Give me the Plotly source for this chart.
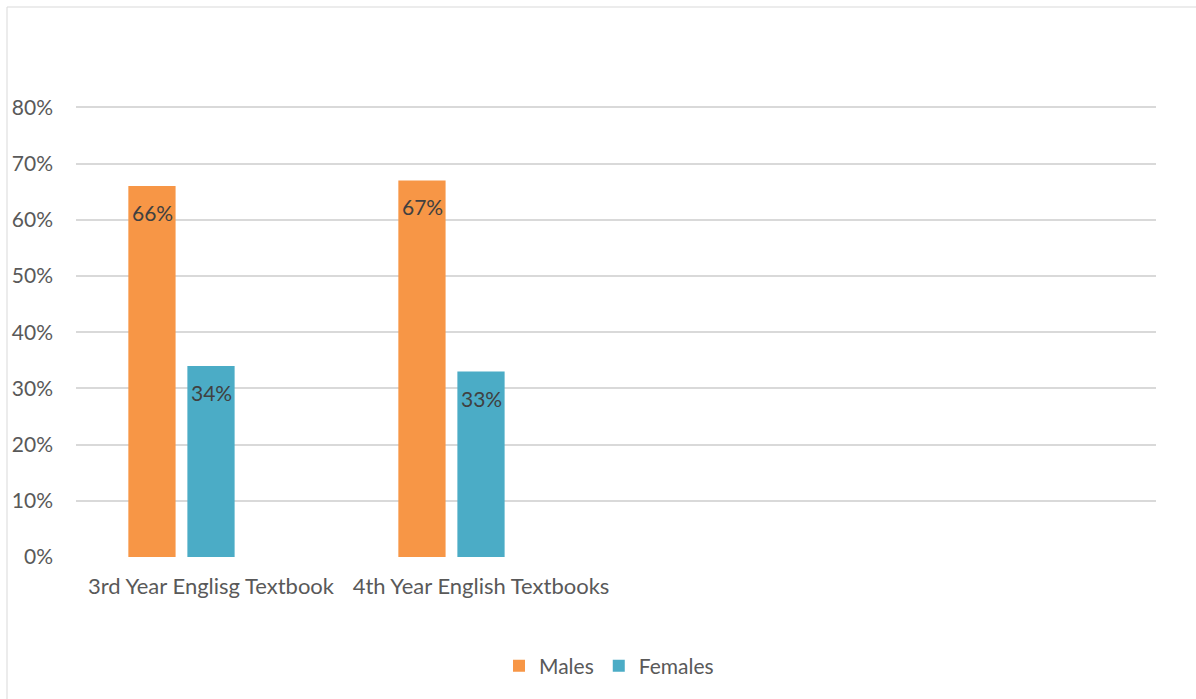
import plotly.graph_objects as go

categories = ["3rd Year Englisg Textbook", "4th Year English Textbooks"]
males = [0.66, 0.67]
females = [0.34, 0.33]
y_ticks = [0, 0.1, 0.2, 0.3, 0.4, 0.5, 0.6, 0.7, 0.8]
y_labels = ["0%", "10%", "20%", "30%", "40%", "50%", "60%", "70%", "80%"]

W, H = 1196, 699
ML, MR, MT, MB = 76, 40, 104, 142
PW, PH = W - ML - MR, H - MT - MB

FONT = "Lato"
FS = 21
TXT = "#595959"
xpos = list(range(len(categories)))

fig = go.Figure()
fig.add_trace(go.Bar(x=xpos, y=males, name="Males",
                     marker=dict(color="#F79646", line=dict(width=0))))
fig.add_trace(go.Bar(x=xpos, y=females, name="Females",
                     marker=dict(color="#4BACC6", line=dict(width=0))))
# empty third series (present in the source chart, no values)
fig.add_trace(go.Bar(x=xpos, y=[None, None], name="", showlegend=False,
                     marker=dict(color="rgba(0,0,0,0)"), hoverinfo="skip"))

# data labels, inside end of each bar
SLOT = 59  # px width of one series slot in the group
for vals, xs in ((males, -SLOT), (females, 0)):
    for i, v in enumerate(vals):
        fig.add_annotation(x=xpos[i], y=v, xref="x", yref="y", text=f"{v*100:.0f}%",
                           showarrow=False, xshift=xs, yshift=-12, yanchor="top",
                           font=dict(family=FONT, size=FS, color="#404040"))

def px_to_paper_x(p):
    return (p - ML) / PW

def px_to_paper_y(p):
    return (H - MB - p) / PH

fig.add_shape(type="rect", xref="paper", yref="paper",
              x0=px_to_paper_x(7), x1=px_to_paper_x(W + 10),
              y0=px_to_paper_y(H + 10), y1=px_to_paper_y(7),
              line=dict(color="#D9D9D9", width=1), fillcolor="rgba(0,0,0,0)", layer="below")

fig.update_layout(
    width=W, height=H,
    margin=dict(l=ML, r=MR, t=MT, b=MB, pad=0),
    paper_bgcolor="white", plot_bgcolor="white",
    barmode="group", bargap=0.344, bargroupgap=0.2,
    font=dict(family=FONT, size=FS, color=TXT),
    showlegend=True,
    legend=dict(orientation="h", x=px_to_paper_x(609), xanchor="center",
                y=px_to_paper_y(666), yanchor="middle",
                font=dict(family=FONT, size=FS, color=TXT), itemwidth=30,
                traceorder="normal"),
    xaxis=dict(range=[-0.5, 3.5], tickvals=xpos, ticktext=categories, showgrid=False,
               zeroline=False, showline=False, ticks="", ticklabelstandoff=14,
               tickfont=dict(family=FONT, size=FS + 1, color=TXT)),
    yaxis=dict(range=[0, 0.806], tickvals=y_ticks, ticktext=y_labels, showgrid=True,
               gridcolor="#D9D9D9", gridwidth=1.5, zeroline=False, showline=False, ticks="",
               ticklabelstandoff=22, tickfont=dict(family=FONT, size=FS, color=TXT)),
)

fig.write_html("out.html")
